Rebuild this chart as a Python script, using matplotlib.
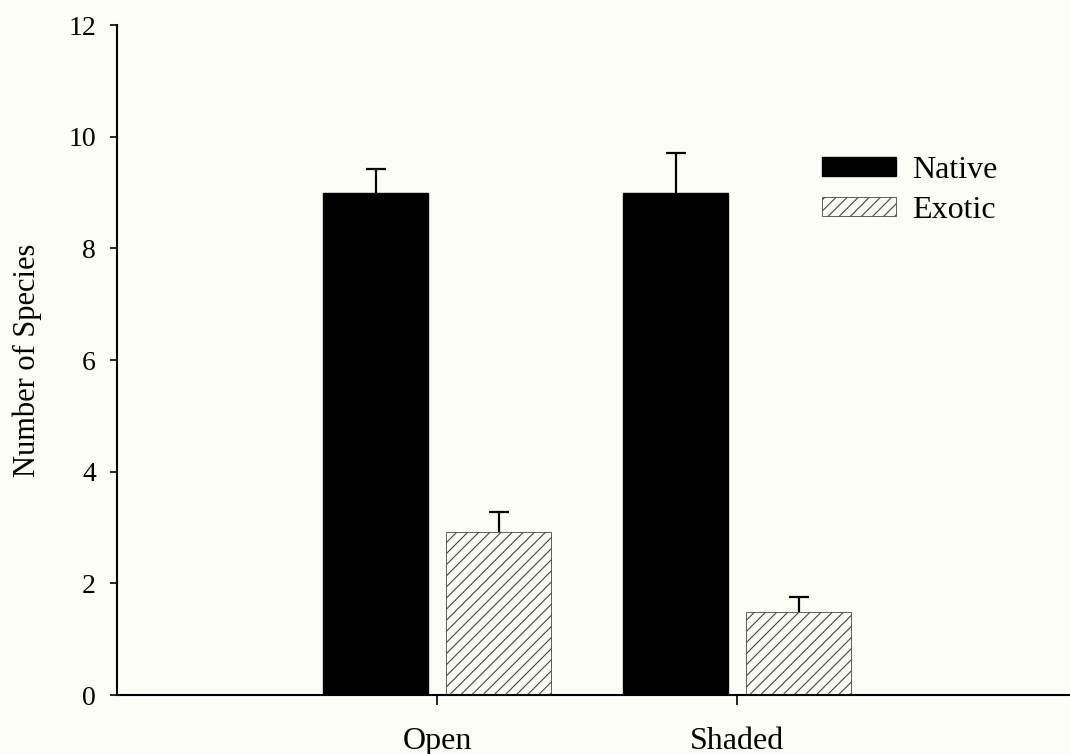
import numpy as np
import matplotlib
matplotlib.use("Agg")
import matplotlib.pyplot as plt

# data
sites = ["Open", "Shaded"]
native = [9.0, 9.0]
native_se = [0.42, 0.71]
exotic = [2.92, 1.48]
exotic_se = [0.35, 0.28]

plt.rcParams['font.family'] = ['Liberation Serif', 'DejaVu Serif']
plt.rcParams['hatch.linewidth'] = 0.8

bg = '#fdfdf8'
fig = plt.figure(figsize=(10.70, 7.54), dpi=100, facecolor=bg)
ax = fig.add_axes([0.1093, 0.0782, 0.8907, 0.8886], facecolor=bg)

x = np.arange(len(sites))
w = 0.35
off = 0.205

ax.bar(x - off, native, w, color='black', edgecolor='black', label='Native', zorder=2)
ax.bar(x + off, exotic, w, color=bg, edgecolor='#444444', linewidth=0.6,
       hatch='///', label='Exotic', zorder=2)

# upper error bars only
for xs, ys, es in [(x - off, native, native_se), (x + off, exotic, exotic_se)]:
    eb = ax.errorbar(xs, ys, yerr=[np.zeros(len(ys)), es], fmt='none',
                     ecolor='black', elinewidth=1.6, capsize=7, capthick=1.6, zorder=1)
    for cap in eb[1]:
        if np.allclose(cap.get_ydata(), ys):
            cap.set_visible(False)

ax.set_xlim(-1.067, 2.11)
ax.set_ylim(0, 12)
ax.set_yticks(range(0, 13, 2))
ax.set_xticks(x)
ax.set_xticklabels(sites)

for s in ['top', 'right']:
    ax.spines[s].set_visible(False)
for s in ['left', 'bottom']:
    ax.spines[s].set_linewidth(1.5)

ax.tick_params(axis='y', length=5, width=1.2, pad=10, labelsize=20)
ax.tick_params(axis='x', length=7, width=1.2, pad=16, labelsize=23)
ax.set_ylabel('Number of Species', fontsize=22, labelpad=19)

leg = ax.legend(loc='upper left', bbox_to_anchor=(0.710, 0.848), frameon=False,
                fontsize=23, handlelength=2.3, handleheight=0.55,
                handletextpad=0.5, labelspacing=0.35)

fig.savefig('out.png', dpi=100, facecolor=bg)
